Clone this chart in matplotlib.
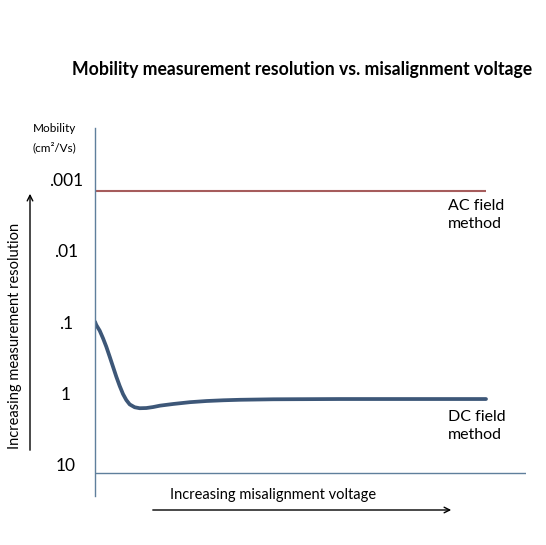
import matplotlib
matplotlib.use("Agg")
import matplotlib.pyplot as plt

plt.rcParams['font.family'] = ['Lato', 'DejaVu Sans']

# misalignment voltage (arbitrary units) and mobility resolution (cm2/Vs)
dc_voltage = [0.0, 0.03, 0.109, 0.186, 0.262, 0.341, 0.418, 0.494, 0.573, 0.65,
              0.726, 0.805, 0.921, 1.037, 1.19, 1.346, 1.508, 1.817, 2.204,
              2.592, 2.977, 3.364, 4.137, 5.684, 9.072]
dc_mobility = [0.099, 0.11, 0.132, 0.169, 0.222, 0.307, 0.425, 0.586, 0.793, 1.03,
               1.25, 1.44, 1.58, 1.63, 1.62, 1.57, 1.50, 1.42, 1.34,
               1.29, 1.26, 1.24, 1.22, 1.21, 1.21]
ac_voltage = [0.0, 9.07]
ac_mobility = [0.00145, 0.00145]

tick_values = [0.001, 0.01, 0.1, 1, 10]
tick_labels = ['.001', '.01', '.1', '1', '10']

W, H = 546, 545
fig = plt.figure(figsize=(W / 100, H / 100), dpi=100)


def fx(x):
    return x / W


def fy(y):
    return 1 - y / H


ax = fig.add_axes([fx(95), fy(496), (526 - 95) / W, (496 - 128) / H])
ax.set_yscale('log')
ax.set_ylim(28.0, 1.86e-4)
ax.set_xlim(0, 10)

ax.plot(ac_voltage, ac_mobility, color='#a65c5c', lw=1.5, solid_capstyle='butt')
ax.plot(dc_voltage, dc_mobility, color='#3d5778', lw=2.7,
        solid_capstyle='round', solid_joinstyle='round')
ax.axhline(13.4, color='#5f7f9c', lw=1.0)

for s in ['top', 'right', 'bottom']:
    ax.spines[s].set_visible(False)
ax.spines['left'].set_color('#5f7f9c')
ax.spines['left'].set_linewidth(1.0)

ax.set_xticks([])
ax.set_yticks(tick_values)
ax.set_yticklabels(tick_labels)
ax.minorticks_off()
ax.tick_params(axis='y', length=0, pad=21, labelsize=12.5)
for lab in ax.get_yticklabels():
    lab.set_horizontalalignment('center')

fig.text(fx(302), fy(69), 'Mobility measurement resolution vs. misalignment voltage',
         ha='center', va='center', fontsize=12.7, fontweight='bold')
fig.text(fx(54), fy(128), 'Mobility', ha='center', va='center', fontsize=8.5)
fig.text(fx(54), fy(147), '(cm²/Vs)', ha='center', va='center', fontsize=8.5)

fig.text(fx(15), fy(336), 'Increasing measurement resolution', rotation=90,
         ha='center', va='center', fontsize=10.5)
fig.text(fx(273), fy(495), 'Increasing misalignment voltage',
         ha='center', va='center', fontsize=10.5)

ax.annotate('', xy=(fx(30), fy(191)), xytext=(fx(30), fy(453)),
            xycoords='figure fraction', textcoords='figure fraction',
            arrowprops=dict(arrowstyle='->', color='black', lw=1.0))
ax.annotate('', xy=(fx(454), fy(510)), xytext=(fx(150), fy(510)),
            xycoords='figure fraction', textcoords='figure fraction',
            arrowprops=dict(arrowstyle='->', color='black', lw=1.0))

fig.text(fx(448), fy(215), 'AC field\nmethod', ha='left', va='center',
         fontsize=11.5, linespacing=1.3)
fig.text(fx(448), fy(426), 'DC field\nmethod', ha='left', va='center',
         fontsize=11.5, linespacing=1.3)

fig.savefig('out.png', dpi=100, facecolor='white')
